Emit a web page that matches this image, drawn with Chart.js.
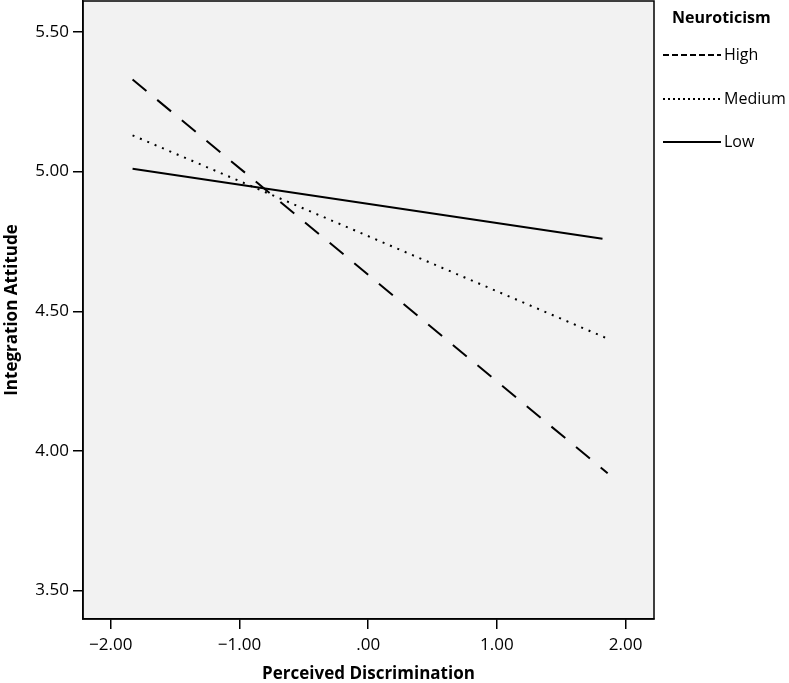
<!DOCTYPE html>
<html>
<head>
<meta charset="utf-8">
<script src="https://cdn.jsdelivr.net/npm/chart.js@4"></script>
<style>
  html, body { margin: 0; padding: 0; background: #fff; }
  #wrap { width: 789px; height: 683px; }
</style>
</head>
<body>
<div id="wrap"><canvas id="chart" width="789" height="683"></canvas></div>
<script>
const ctx = document.getElementById("chart").getContext("2d");

const FONT = "'Open Sans', sans-serif";

// simple slopes
const seriesLabels = ["High", "Medium", "Low"];
const highX = [-1.83, 1.86];
const highY = [5.33, 3.92];
const mediumX = [-1.83, 1.87];
const mediumY = [5.13, 4.40];
const lowX = [-1.83, 1.82];
const lowY = [5.01, 4.76];

const xTicks = [-2, -1, 0, 1, 2];
const yTicks = [3.5, 4.0, 4.5, 5.0, 5.5];

function toPoints(xs, ys) {
  return xs.map((x, i) => ({ x, y: ys[i] }));
}

function formatTick(v) {
  let s = Math.abs(v).toFixed(2);
  if (s.startsWith("0")) s = s.slice(1);
  return (v < 0 ? "\u2212" : "") + s;
}

// plot background + frame
const frame = {
  id: "frame",
  beforeDraw(chart) {
    const { ctx, chartArea: a } = chart;
    ctx.save();
    ctx.fillStyle = "#f2f2f2";
    ctx.fillRect(a.left, a.top, a.right - a.left, a.bottom - a.top);
    ctx.restore();
  },
  afterDraw(chart) {
    const { ctx, chartArea: a } = chart;
    ctx.save();
    ctx.strokeStyle = "#000";
    ctx.lineWidth = 1.5;
    ctx.strokeRect(a.left, a.top, a.right - a.left, a.bottom - a.top);
    ctx.restore();
  },
};

// legend to the right of the plot, like the SPSS output
const sideLegend = {
  id: "sideLegend",
  afterDraw(chart) {
    const { ctx } = chart;
    ctx.save();
    ctx.fillStyle = "#000";
    ctx.textBaseline = "middle";
    ctx.font = "bold 16px " + FONT;
    ctx.fillText("Neuroticism", 672, 18);
    const rows = [55, 99, 142];
    chart.data.datasets.forEach((ds, i) => {
      const y = rows[i];
      ctx.beginPath();
      ctx.strokeStyle = ds.borderColor;
      ctx.lineWidth = ds.borderWidth;
      ctx.setLineDash(ds.legendDash || []);
      ctx.moveTo(663, y);
      ctx.lineTo(721, y);
      ctx.stroke();
      ctx.setLineDash([]);
      ctx.font = "16px " + FONT;
      ctx.fillText(ds.label, 724, y);
    });
    ctx.restore();
  },
};

new Chart(ctx, {
  type: "scatter",
  data: {
    datasets: [
      {
        label: seriesLabels[0],
        data: toPoints(highX, highY),
        showLine: true,
        borderColor: "#000",
        borderWidth: 2,
        borderDash: [18, 14],
        legendDash: [6, 3],
        pointRadius: 0,
      },
      {
        label: seriesLabels[1],
        data: toPoints(mediumX, mediumY),
        showLine: true,
        borderColor: "#000",
        borderWidth: 2,
        borderDash: [2, 6],
        legendDash: [2, 3],
        pointRadius: 0,
      },
      {
        label: seriesLabels[2],
        data: toPoints(lowX, lowY),
        showLine: true,
        borderColor: "#000",
        borderWidth: 2,
        pointRadius: 0,
      },
    ],
  },
  options: {
    responsive: false,
    animation: false,
    layout: { padding: { top: 1, right: 135, left: 0, bottom: 0 } },
    plugins: {
      legend: { display: false },
      tooltip: { enabled: false },
    },
    scales: {
      x: {
        type: "linear",
        min: -2.215,
        max: 2.22,
        afterBuildTicks(scale) {
          scale.ticks = xTicks.map((v) => ({ value: v }));
        },
        afterFit(scale) {
          scale.height = 64;
          scale.paddingLeft = 0;
          scale.paddingRight = 0;
        },
        ticks: {
          callback: (v) => formatTick(v),
          color: "#000",
          font: { family: FONT, size: 17 },
          padding: 6,
          maxRotation: 0,
        },
        grid: {
          drawOnChartArea: false,
          drawTicks: true,
          tickLength: 10,
          color: "#000",
          lineWidth: 1.5,
        },
        border: { display: true, color: "#000", width: 1.5 },
        title: {
          display: true,
          text: "Perceived Discrimination",
          color: "#000",
          font: { family: FONT, size: 17, weight: "bold", lineHeight: 1 },
          padding: { top: 0, bottom: 0 },
        },
      },
      y: {
        type: "linear",
        min: 3.398,
        max: 5.611,
        afterBuildTicks(scale) {
          scale.ticks = yTicks.map((v) => ({ value: v }));
        },
        afterFit(scale) {
          scale.width = 83;
          scale.paddingTop = 0;
          scale.paddingBottom = 0;
        },
        ticks: {
          callback: (v) => formatTick(v),
          color: "#000",
          font: { family: FONT, size: 17 },
          padding: 4,
        },
        grid: {
          drawOnChartArea: false,
          drawTicks: true,
          tickLength: 10,
          color: "#000",
          lineWidth: 1.5,
        },
        border: { display: true, color: "#000", width: 1.5 },
        title: {
          display: true,
          text: "Integration Attitude",
          color: "#000",
          font: { family: FONT, size: 17, weight: "bold" },
          padding: { top: 2, bottom: 0 },
        },
      },
    },
  },
  plugins: [frame, sideLegend],
});
</script>
</body>
</html>
